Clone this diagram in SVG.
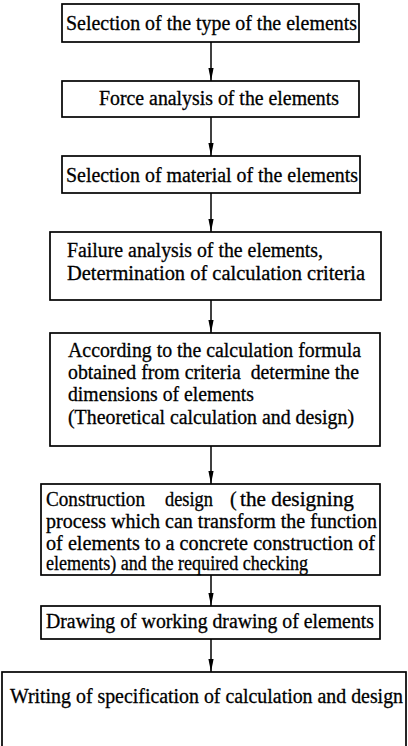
<svg xmlns="http://www.w3.org/2000/svg" width="408" height="746" viewBox="0 0 408 746">
<defs>
<style>
.box{fill:#fff;stroke:#000;stroke-width:1.7}
.t{font-family:"Liberation Serif","Times New Roman",serif;font-size:20px;fill:#000;stroke:#000;stroke-width:0.3}
.pre{white-space:pre}
.con{stroke:#000;stroke-width:1.5;fill:none}
</style>
<marker id="ah" markerUnits="userSpaceOnUse" markerWidth="14" markerHeight="8" refX="13" refY="3" orient="auto">
<path d="M0,0.4 L13,3 L0,5.6 Z" fill="#000"/>
</marker>
</defs>
<rect width="408" height="746" fill="#fff"/>
<g id="connectors">
<line class="con" x1="211" y1="42" x2="211" y2="81" marker-end="url(#ah)"/>
<line class="con" x1="211" y1="117" x2="211" y2="156" marker-end="url(#ah)"/>
<line class="con" x1="211" y1="193" x2="211" y2="232" marker-end="url(#ah)"/>
<line class="con" x1="211" y1="300" x2="211" y2="333" marker-end="url(#ah)"/>
<line class="con" x1="211" y1="446" x2="211" y2="484" marker-end="url(#ah)"/>
<line class="con" x1="211" y1="575" x2="211" y2="606" marker-end="url(#ah)"/>
<line class="con" x1="211" y1="639" x2="211" y2="672" marker-end="url(#ah)"/>
</g>
<g id="n1">
<rect class="box" x="62" y="4" width="297" height="38"/>
<text class="t" x="66" y="30" textLength="291" lengthAdjust="spacingAndGlyphs">Selection of the type of the elements</text>
</g>
<g id="n2">
<rect class="box" x="62" y="81" width="297" height="36"/>
<text class="t" x="99" y="105" textLength="240" lengthAdjust="spacingAndGlyphs">Force analysis of the elements</text>
</g>
<g id="n3">
<rect class="box" x="62" y="156" width="298" height="37"/>
<text class="t" x="66" y="182" textLength="292" lengthAdjust="spacingAndGlyphs">Selection of material of the elements</text>
</g>
<g id="n4">
<rect class="box" x="50" y="232" width="331" height="68"/>
<text class="t" x="67" y="257" textLength="256" lengthAdjust="spacingAndGlyphs">Failure analysis of the elements,</text>
<text class="t" x="67" y="280" textLength="298" lengthAdjust="spacingAndGlyphs">Determination of calculation criteria</text>
</g>
<g id="n5">
<rect class="box" x="50" y="333" width="330" height="113"/>
<text class="t" x="68" y="357" textLength="293" lengthAdjust="spacingAndGlyphs">According to the calculation formula</text>
<text class="t pre" x="68" y="379" textLength="291" lengthAdjust="spacingAndGlyphs">obtained from criteria  determine the</text>
<text class="t" x="68" y="401" textLength="186" lengthAdjust="spacingAndGlyphs">dimensions of elements</text>
<text class="t" x="68" y="424" textLength="286" lengthAdjust="spacingAndGlyphs">(Theoretical calculation and design)</text>
</g>
<g id="n6">
<rect class="box" x="41" y="484" width="339" height="91"/>
<text class="t" y="506"><tspan x="46" textLength="99" lengthAdjust="spacingAndGlyphs">Construction</tspan><tspan x="165" textLength="48" lengthAdjust="spacingAndGlyphs">design</tspan><tspan x="230">(</tspan><tspan x="240" textLength="114" lengthAdjust="spacingAndGlyphs">the designing</tspan></text>
<text class="t" x="46" y="528" textLength="331" lengthAdjust="spacingAndGlyphs">process which can transform the function</text>
<text class="t" x="46" y="550" textLength="329" lengthAdjust="spacingAndGlyphs">of elements to a concrete construction of</text>
<text class="t" x="46" y="570" textLength="262" lengthAdjust="spacingAndGlyphs">elements) and the required checking</text>
</g>
<g id="n7">
<rect class="box" x="41" y="606" width="339" height="33"/>
<text class="t" x="46" y="628" textLength="328" lengthAdjust="spacingAndGlyphs">Drawing of working drawing of elements</text>
</g>
<g id="n8">
<rect class="box" x="2" y="672" width="404" height="90"/>
<text class="t" x="10" y="703" textLength="393" lengthAdjust="spacingAndGlyphs">Writing of specification of calculation and design</text>
</g>
</svg>
